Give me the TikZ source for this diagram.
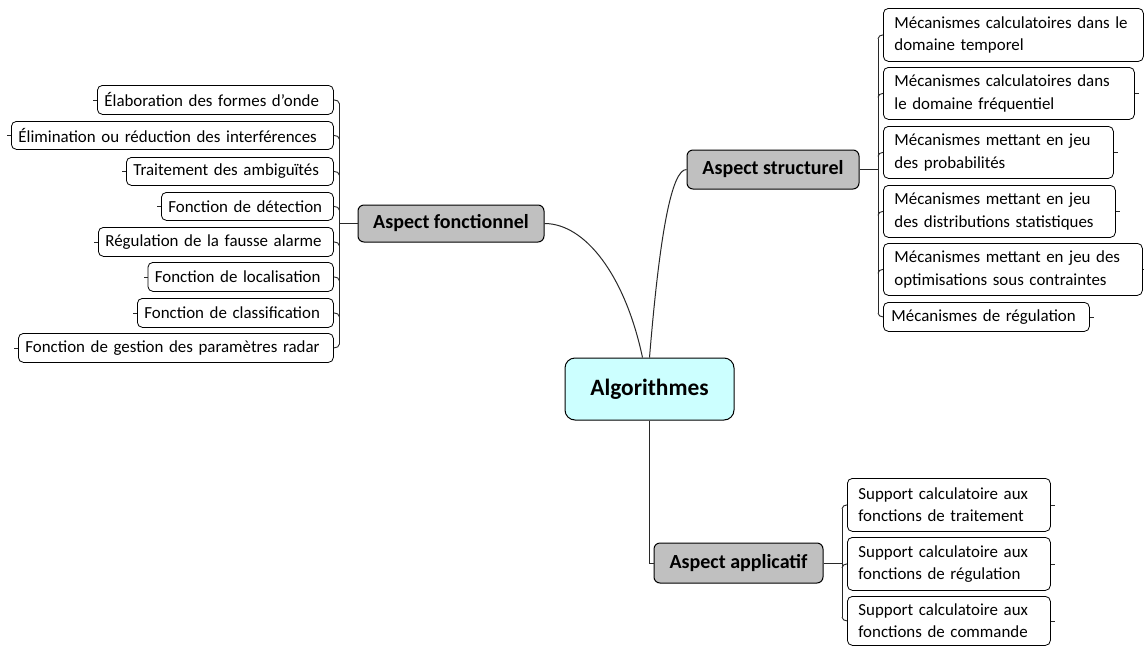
\documentclass[tikz,border=0pt]{standalone}
\usepackage{fontspec}
\setmainfont{Carlito}
\definecolor{hubgray}{RGB}{192,192,192}
\definecolor{algcyan}{RGB}{204,255,255}
\definecolor{lnk}{RGB}{40,40,40}
\newcommand\leaffont{\fontsize{16.9}{22.5}\selectfont}
\newcommand\hubfont{\fontsize{20}{22}\selectfont\bfseries}
\newcommand\algfont{\fontsize{23.4}{26}\selectfont\bfseries}
\newcommand\apos{\symbol{39}}
\tikzset{
  leaf/.style={draw=black, line width=0.8pt, rounded corners=5pt, anchor=north west,
    align=left, inner xsep=7pt, inner ysep=0pt, font=\leaffont},
  hub/.style={draw=black, line width=1pt, fill=hubgray, rounded corners=6pt,
    inner sep=0pt, font=\hubfont},
  algbox/.style={draw=black, line width=1pt, fill=algcyan, rounded corners=10pt,
    inner sep=0pt, font=\algfont, minimum width=169pt, minimum height=62pt},
  conn/.style={draw=lnk, line width=1pt},
  tick/.style={draw=lnk, line width=0.9pt},
  stub/.style={draw=lnk, line width=0.8pt}
}
\begin{document}
\begin{tikzpicture}[x=1pt,y=-1pt]
\useasboundingbox (0,0) rectangle (1144,646);
\fill[white] (0,0) rectangle (1144,646);

% central and hubs
\node[algbox] (alg) at (649.5,389) {Algorithmes};
\node[hub, minimum width=186pt, minimum height=37pt] (af) at (451,223.5) {Aspect fonctionnel};
\node[hub, minimum width=172pt, minimum height=39pt] (as) at (773,169.5) {Aspect structurel};
\node[hub, minimum width=169pt, minimum height=40pt] (ap) at (738.5,563) {Aspect applicatif};

% left leaves
\node[leaf, text width=222pt, minimum height=29pt] (l1) at (97,85) {Élaboration des formes d\apos onde};
\node[leaf, text width=308pt, minimum height=28pt] (l2) at (11,121) {Élimination ou réduction des interférences};
\node[leaf, text width=193pt, minimum height=28pt] (l3) at (126,157) {Traitement des ambiguïtés};
\node[leaf, text width=158pt, minimum height=28pt] (l4) at (161,192) {Fonction de détection};
\node[leaf, text width=221pt, minimum height=29pt] (l5) at (98,227) {Régulation de la fausse alarme};
\node[leaf, text width=171.5pt, minimum height=29pt] (l6) at (147.5,262) {Fonction de localisation};
\node[leaf, text width=182pt, minimum height=29pt] (l7) at (137,298) {Fonction de classification};
\node[leaf, text width=301pt, minimum height=29pt] (l8) at (18,333) {Fonction de gestion des paramètres radar};

% right leaves
\node[leaf, inner xsep=11pt, text width=238pt, minimum height=53pt] (r1) at (883,8) {Mécanismes calculatoires dans le\\domaine temporel};
\node[leaf, inner xsep=11pt, text width=229pt, minimum height=52pt] (r2) at (883,67) {Mécanismes calculatoires dans\\le domaine fréquentiel};
\node[leaf, inner xsep=11pt, text width=208pt, minimum height=52pt] (r3) at (883,126) {Mécanismes mettant en jeu\\des probabilités};
\node[leaf, inner xsep=11pt, text width=210pt, minimum height=52pt] (r4) at (883,185) {Mécanismes mettant en jeu\\des distributions statistiques};
\node[leaf, inner xsep=11pt, text width=237pt, minimum height=52pt] (r5) at (883,243) {Mécanismes mettant en jeu des\\optimisations sous contraintes};
\node[leaf, inner xsep=8pt, text width=190pt, minimum height=29pt] (r6) at (883,302) {Mécanismes de régulation};

% bottom leaves
\node[leaf, inner xsep=11pt, text width=181pt, minimum height=53pt] (a1) at (847,478) {Support calculatoire aux\\fonctions de traitement};
\node[leaf, inner xsep=11pt, text width=181pt, minimum height=53pt] (a2) at (847,537) {Support calculatoire aux\\fonctions de régulation};
\node[leaf, inner xsep=11pt, text width=181pt, minimum height=49pt] (a3) at (847,596) {Support calculatoire aux\\fonctions de commande};

% bus coordinates
\coordinate (lbus) at (339.5,0);
\coordinate (rbus) at (878,0);
\coordinate (abus) at (842,0);

% main connectors
\draw[conn] (af.east) .. controls (585,223.5) and (625,275) .. ([xshift=-7pt]alg.north);
\draw[conn] (as.west) .. controls (672,169.5) and (660,230) .. (alg.north);
\draw[conn] (alg.south) |- (ap.west);

% left bracket
\draw[conn] ([yshift=-4pt]lbus |- l1.east) -- ([yshift=4pt]lbus |- l8.east);
\draw[tick] (l1.east) to[out=0,in=90] ([yshift=-4pt]lbus |- l1.east);
\foreach \n in {l2,l3,l4,l5,l6,l7} \draw[tick] (\n.east) to[out=0,in=90] ([yshift=-4pt]lbus |- \n.east);
\draw[tick] ([yshift=4pt]lbus |- l8.east) to[out=-90,in=0] (l8.east);
\draw[conn] (af.west) -- (lbus |- af.west);

% right bracket
\draw[conn] ([yshift=-4pt]rbus |- r1.west) -- ([yshift=4pt]rbus |- r6.west);
\foreach \n in {r1,r2,r3,r4,r5} \draw[tick] (\n.west) to[out=180,in=90] ([yshift=-4pt]rbus |- \n.west);
\draw[tick] ([yshift=4pt]rbus |- r6.west) to[out=-90,in=180] (r6.west);
\draw[conn] (as.east) -- (rbus |- as.east);

% bottom bracket
\draw[conn] ([yshift=-4pt]abus |- a1.west) -- ([yshift=4pt]abus |- a3.west);
\foreach \n in {a1,a2} \draw[tick] (\n.west) to[out=180,in=90] ([yshift=-4pt]abus |- \n.west);
\draw[tick] ([yshift=4pt]abus |- a3.west) to[out=-90,in=180] (a3.west);
\draw[conn] (ap.east) -- (abus |- ap.east);

% small stubs
\foreach \n in {l1,l2,l3,l4,l5,l6,l7,l8} \draw[stub] (\n.west) -- ++(-4,0);
\foreach \n in {r2,r3,r4,r5,r6,a1,a2,a3} \draw[stub] (\n.east) -- ++(4,0);
\end{tikzpicture}
\end{document}
